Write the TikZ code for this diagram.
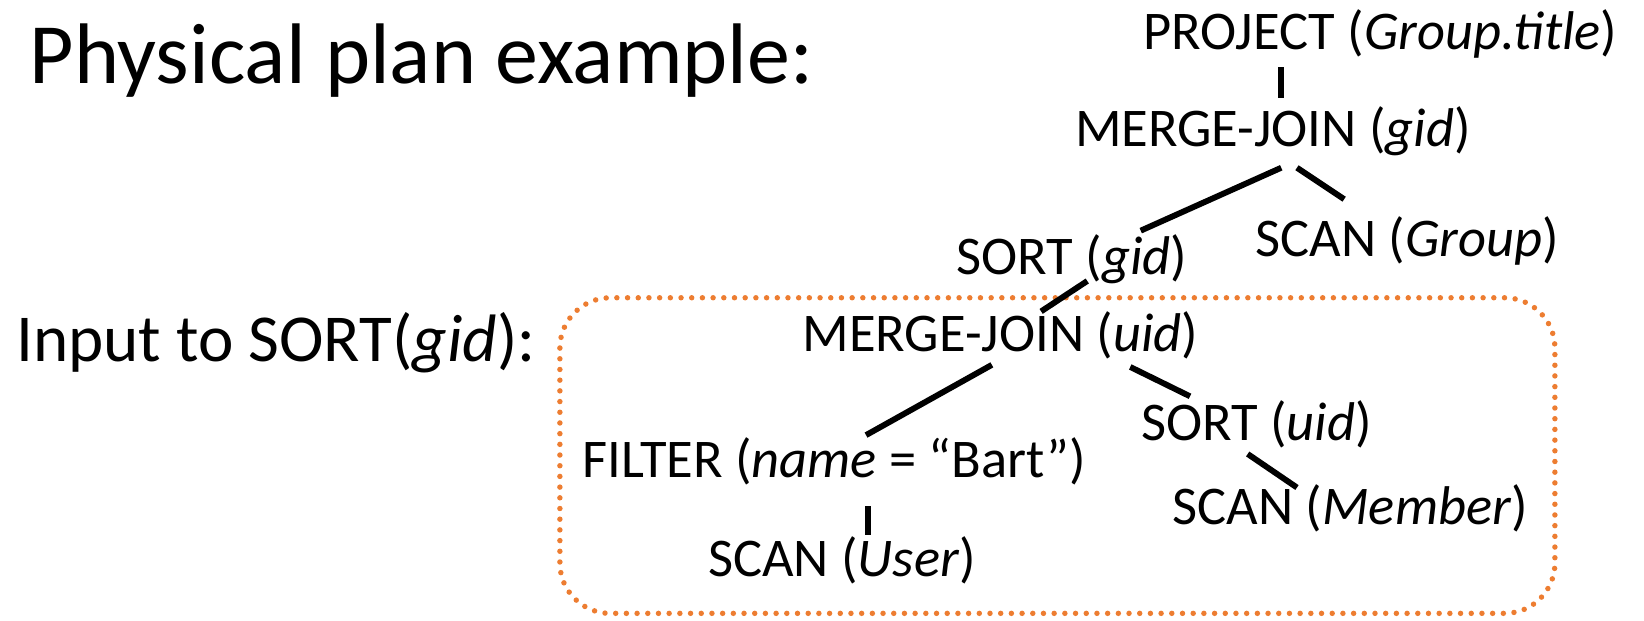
\documentclass[tikz,border=0pt]{standalone}
\usepackage{fontspec}
\setmainfont{Carlito}
\definecolor{boxorange}{HTML}{ED7D31}
\begin{document}
\begin{tikzpicture}[x=0.5pt,y=0.5pt,
  treetext/.style={anchor=base west, inner sep=0pt, font=\fontsize{26}{30}\selectfont},
  edge/.style={line width=2.8pt},
  dotbox/.style={draw=boxorange, line width=2.6pt, line cap=round, dash pattern=on 0pt off 5.1pt, rounded corners=24pt}]
\useasboundingbox (0,0) rectangle (1568,-592);
% dotted box
\draw[dotbox] (534,-284) rectangle (1483,-585);
% labels
\node[anchor=base west, inner sep=0pt, font=\fontsize{41}{48}\selectfont] (phys) at (28,-80) {Physical plan example:};
\node[anchor=base west, inner sep=0pt, font=\fontsize{32}{38}\selectfont] (inp) at (15,-345) {Input to SORT(\textit{gid}):};
% tree
\node[treetext] (proj) at (1090,-47) {PROJECT (\textit{Group.title})};
\node[treetext] (mjg) at (1025,-140) {MERGE-JOIN (\textit{gid})};
\node[treetext] (scang) at (1197,-245) {SCAN (\textit{Group})};
\node[treetext] (sortg) at (912,-262) {SORT (\textit{gid})};
\node[treetext] (mju) at (765,-335) {MERGE-JOIN (\textit{uid})};
\node[treetext] (sortu) at (1088,-420) {SORT (\textit{uid})};
\node[treetext] (filt) at (555,-455) {FILTER (\textit{name} = “Bart”)};
\node[treetext] (scanm) at (1118,-500) {SCAN (\textit{Member})};
\node[treetext] (scanu) at (675,-550) {SCAN (\textit{User})};
% edges
\draw[edge] ([shift={(132,-17)}]proj.base west) -- ([shift={(197,47)}]mjg.base west);
\draw[edge] ([shift={(197,-20)}]mjg.base west) -- ([shift={(176,42)}]sortg.base west);
\draw[edge] ([shift={(212,-20)}]mjg.base west) -- ([shift={(85,55)}]scang.base west);
\draw[edge] ([shift={(125,-6)}]sortg.base west) -- ([shift={(228,38)}]mju.base west);
\draw[edge] ([shift={(181,-13)}]mju.base west) -- ([shift={(271,40)}]filt.base west);
\draw[edge] ([shift={(313,-15)}]mju.base west) -- ([shift={(47,42)}]sortu.base west);
\draw[edge] ([shift={(102,-13)}]sortu.base west) -- ([shift={(119,35)}]scanm.base west);
\draw[edge] ([shift={(273,-28)}]filt.base west) -- ([shift={(153,40)}]scanu.base west);
\end{tikzpicture}
\end{document}
